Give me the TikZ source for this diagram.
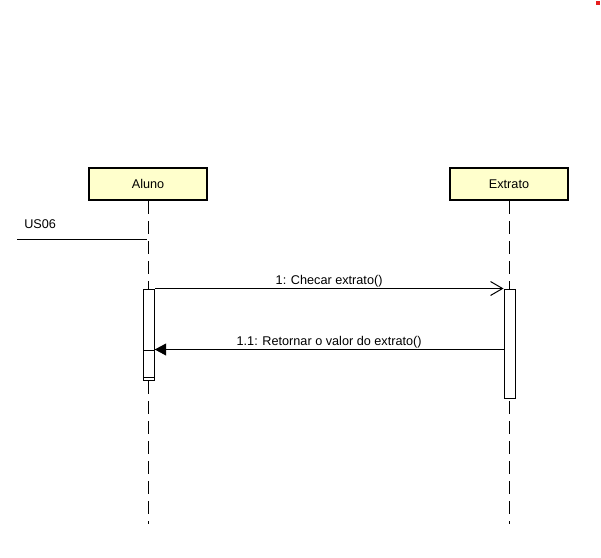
\documentclass[tikz,border=0pt]{standalone}
\usepackage{fontspec}
\setmainfont{Liberation Sans}
\usetikzlibrary{arrows.meta}
\definecolor{lifebox}{RGB}{255,255,204}
\definecolor{dotred}{RGB}{230,30,30}
\tikzset{
  actor/.style={draw, line width=1.5pt, fill=lifebox, minimum width=88.5pt, minimum height=24pt, inner sep=0pt, font=\fontsize{9.5}{11}\selectfont},
  lifeline/.style={line width=0.75pt, dash pattern=on 9.75pt off 5.25pt},
  actbar/.style={draw, line width=0.75pt, fill=white, minimum width=8.25pt, inner sep=0pt},
  msg/.style={line width=0.75pt},
  msglabel/.style={inner sep=0.75pt, font=\fontsize{9.5}{11}\selectfont}
}
\begin{document}
\begin{tikzpicture}[x=0.75pt,y=0.75pt,yscale=-1,xscale=1]
\useasboundingbox (0,0) rectangle (601,558);

%Red Dot
\fill[dotred] (596,1) rectangle (600,5);

%Lifeline heads
\node[actor] (aluno) at (148,184) {Aluno};
\node[actor] (extrato) at (509,184) {Extrato};

%Lifelines
\coordinate (alunoend) at (148,524);
\coordinate (extratoend) at (509,524);
\draw[lifeline] (aluno.south) -- (alunoend);
\draw[lifeline] (extrato.south) -- (extratoend);

%Found message
\coordinate (us06start) at (17,239);
\coordinate (us06end) at (147,239);
\draw[msg] (us06start) -- (us06end);
\node[msglabel, anchor=base west] (us06) at (23,228) {US06};

%Activation bars
\node[actbar, minimum height=68.25pt] (alunoact) at (148.75,334.5) {};
\node[actbar, minimum height=20.25pt] (alunoret) at (148.75,363.5) {};
\node[actbar, minimum height=81.75pt] (extratoact) at (509.5,343.5) {};

%Messages
\draw[msg, -{Straight Barb[length=9pt, width=10.5pt]}] (alunoact.north east) -- (extratoact.north west)
  node[msglabel, midway, anchor=base, yshift=3pt] (checar) {1: Checar extrato()};
\draw[msg, -{Triangle[length=8.6pt, width=9pt]}] (alunoret.north east -| extratoact.west) -- (alunoret.north east)
  node[msglabel, midway, anchor=base, yshift=3pt] (retornar) {1.1: Retornar o valor do extrato()};

\end{tikzpicture}
\end{document}
